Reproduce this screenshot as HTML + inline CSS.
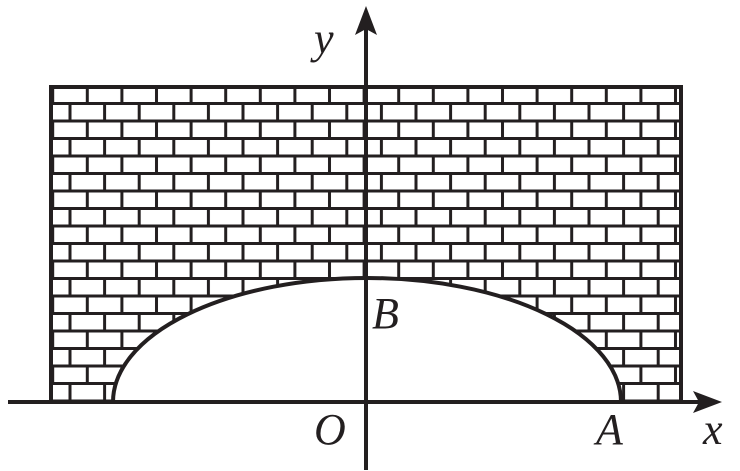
<!DOCTYPE html>
<html><head><style>
html,body{margin:0;padding:0;background:#fff}
.w{position:relative;width:740px;height:471px;overflow:hidden}
.t{position:absolute;font-family:"Liberation Serif","DejaVu Serif",serif;font-style:italic;font-size:44px;line-height:1;color:#231f20}
</style></head>
<body><div class="w">
<svg width="740" height="471" viewBox="0 0 740 471" xmlns="http://www.w3.org/2000/svg" style="position:absolute;left:0;top:0">
<defs>
<pattern id="br" patternUnits="userSpaceOnUse" x="52.7" y="86" width="34.6" height="35">
<g stroke="#231f20" stroke-width="3" fill="none">
<line x1="-1" y1="0" x2="36" y2="0"/>
<line x1="-1" y1="17.5" x2="36" y2="17.5"/>
<line x1="-1" y1="35" x2="36" y2="35"/>
<line x1="0" y1="0" x2="0" y2="17.5"/>
<line x1="34.6" y1="0" x2="34.6" y2="17.5"/>
<line x1="17.3" y1="17.5" x2="17.3" y2="35"/>
</g>
</pattern>
</defs>
<rect x="51" y="87" width="630" height="315" fill="url(#br)" stroke="#231f20" stroke-width="4"/>
<path d="M113,402 A254,124 0 0 1 621,402 Z" fill="#fff" stroke="#231f20" stroke-width="4"/>
<line x1="8" y1="402" x2="700" y2="402" stroke="#231f20" stroke-width="4"/>
<path d="M722,402 L693,391 L699,402 L693,413 Z" fill="#231f20"/>
<line x1="366" y1="470" x2="366" y2="28" stroke="#231f20" stroke-width="4"/>
<path d="M366,6 L355,35 L366,29 L377,35 Z" fill="#231f20"/>
</svg>
<div class="t" style="left:314px;top:17px">y</div>
<div class="t" style="left:372px;top:292px">B</div>
<div class="t" style="left:314px;top:408px">O</div>
<div class="t" style="left:596px;top:408px">A</div>
<div class="t" style="left:703px;top:408px">x</div>
</div></body></html>
